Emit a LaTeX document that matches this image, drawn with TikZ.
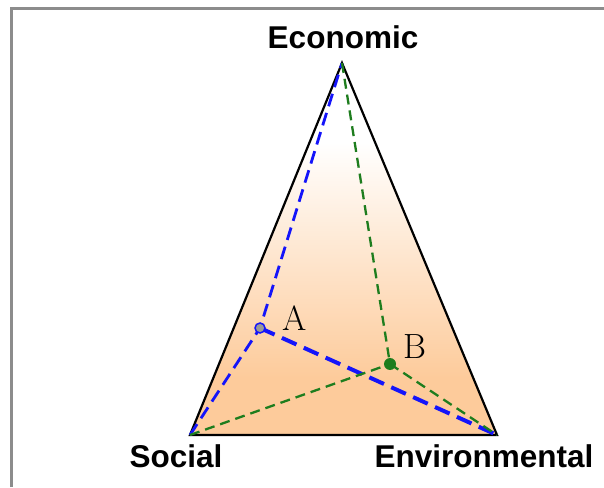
\documentclass[tikz,border=0pt]{standalone}
\usepackage{fontspec}
\newfontfamily\labfont{Liberation Sans}
\definecolor{tri}{RGB}{253,203,155}
\definecolor{bluel}{RGB}{20,20,250}
\definecolor{greenl}{RGB}{30,125,30}
\definecolor{framegray}{RGB}{140,140,140}
\tikzset{
  vlabel/.style={font=\labfont\bfseries\fontsize{31.5}{33}\selectfont, inner sep=0pt},
  plabel/.style={font=\fontsize{35}{37}\selectfont, inner sep=0pt},
  bluedash/.style={draw=bluel, line width=2.8pt, dash pattern=on 13pt off 7pt},
  bluedashthick/.style={draw=bluel, line width=4pt, dash pattern=on 16pt off 8pt},
  greendash/.style={draw=greenl, line width=2.3pt, dash pattern=on 10pt off 6pt},
}
\begin{document}
\begin{tikzpicture}[x=1pt,y=1pt]
\useasboundingbox (0,0) rectangle (604,487);
% frame
\draw[framegray, line width=3pt] (11,0) -- (11,478) -- (604,478);
% vertices
\coordinate (E) at (342,424);
\coordinate (S) at (190,52);
\coordinate (V) at (497,52);
\coordinate (A) at (260,159);
\coordinate (B) at (390,123);
% shaded fill
\begin{scope}
\clip (E) -- (S) -- (V) -- cycle;
\fill[tri] (150,52) rectangle (540,110);
\shade[top color=white, bottom color=tri] (150,109) rectangle (540,345);
\end{scope}
\draw[black, line width=2.2pt, line join=miter] (E) -- (S) -- (V) -- cycle;
% dashed connectors
\draw[bluedash] (S) -- (A) -- (E);
\draw[bluedashthick] (A) -- (V);
\draw[greendash] (E) -- (B);
\draw[greendash] (S) -- (B);
\draw[greendash] (B) -- (V);
% points
\fill[gray!80, draw=bluel, line width=1.5pt] (A) circle (5pt);
\fill[greenl] (B) circle (6pt);
% labels
\node[vlabel] (eco) at (343,450) {Economic};
\node[vlabel] (soc) at (176,31) {Social};
\node[vlabel] (env) at (484,31) {Environmental};
\node[plabel] (la) at (295,169) {A};
\node[plabel] (lb) at (415,140) {B};
\end{tikzpicture}
\end{document}
